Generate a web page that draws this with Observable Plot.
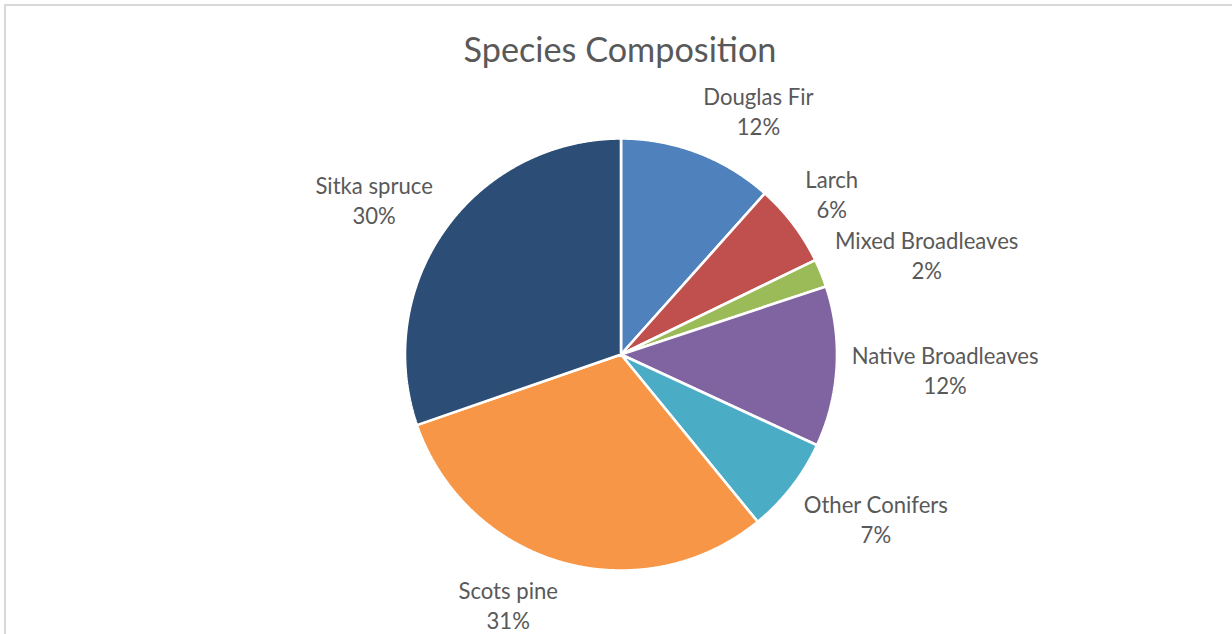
<!DOCTYPE html>
<html>
<head>
<meta charset="utf-8">
<script src="https://cdn.jsdelivr.net/npm/d3@7"></script>
<script src="https://cdn.jsdelivr.net/npm/@observablehq/plot@0.6"></script>
<style>
  html, body { margin: 0; padding: 0; background: #fff; width: 1232px; height: 634px; overflow: hidden; }
  #frame { position: absolute; left: 4px; top: 4px; width: 1240px; height: 640px;
           border-top: 2px solid #d9d9d9; border-left: 2px solid #d9d9d9; box-sizing: border-box; }
  #title { position: absolute; left: 0; width: 1240px; text-align: center; color: #595959;
           font-family: Lato, "Open Sans", sans-serif; line-height: 1.2; white-space: nowrap; }
  #chart { position: absolute; left: 0; top: 84px; }
</style>
</head>
<body>
<div id="frame"></div>
<div id="title">Species Composition</div>
<div id="chart"></div>
<script>
// ---- data ----
const species = ["Douglas Fir", "Larch", "Mixed Broadleaves", "Native Broadleaves", "Other Conifers", "Scots pine", "Sitka spruce"];
const shares = [11.6, 6.2, 2.1, 12.0, 7.2, 30.6, 30.3];
const colors = ["#4F81BD", "#C0504D", "#9BBB59", "#8064A2", "#4BACC6", "#F79646", "#2C4D75"];
const titleText = "Species Composition";

// ---- layout / style ----
const W = 1232, H = 550;
const cx = 620.5, cy = 270, r = 216;
const font = "Lato";
const ctx = document.createElement("canvas").getContext("2d");
function measure(t, size) { ctx.font = `${size}px ${font}`; return ctx.measureText(t).width; }
const labelSize = 100 * 187 / measure("Native Broadleaves", 100);
const titleSize = 100 * 313 / measure(titleText, 100);
const lineH = 30;

const title = document.getElementById("title");
title.style.fontSize = titleSize + "px";
title.style.top = (62 - 0.987 * titleSize) + "px";

// ---- slices ----
const arcs = d3.pie().sort(null).value(d => d)(shares);
const slicePts = [];
arcs.forEach((a, i) => {
  slicePts.push({name: species[i], x: 0, y: 0});
  const n = Math.max(2, Math.ceil((a.endAngle - a.startAngle) / 0.005));
  for (let k = 0; k <= n; k++) {
    const t = a.startAngle + (a.endAngle - a.startAngle) * k / n;
    slicePts.push({name: species[i], x: Math.sin(t), y: Math.cos(t)});
  }
});

// ---- labels (outside end: box edge point on a ring, then de-overlap) ----
const ring = r + 15;
const boxH = 56, gap = 5;
const clamp = v => Math.max(-1, Math.min(1, v));
const boxes = arcs.map((a, i) => {
  const m = (a.startAngle + a.endAngle) / 2;
  const pct = Math.round(shares[i]) + "%";
  const w = Math.max(measure(species[i], labelSize), measure(pct, labelSize));
  const ax = cx + ring * Math.sin(m), ay = cy - ring * Math.cos(m);
  return {i, m, pct, w,
          px: ax + clamp(4 * Math.sin(m)) * w / 2,
          py: ay - clamp(1.3 * Math.cos(m)) * boxH / 2};
});
const right = boxes.filter(b => Math.sin(b.m) > 0);
for (let k = 1; k < right.length; k++) {
  const prev = right[k - 1], cur = right[k];
  const overlapX = Math.abs(cur.px - prev.px) < (cur.w + prev.w) / 2;
  if (overlapX && cur.py - boxH / 2 < prev.py + boxH / 2 + gap) cur.py = prev.py + boxH + gap;
}
const labels = boxes.map(b => ({
  name: species[b.i], text: species[b.i] + "\n" + b.pct,
  x: (b.px - cx) / r, y: (cy - b.py) / r
}));

const chart = Plot.plot({
  width: W, height: H, margin: 0,
  x: {domain: [-1, 1], range: [cx - r, cx + r], axis: null},
  y: {domain: [-1, 1], range: [cy + r, cy - r], axis: null},
  color: {domain: species, range: colors},
  style: {fontFamily: font, background: "transparent", overflow: "visible"},
  marks: [
    Plot.line(slicePts, {x: "x", y: "y", z: "name", fill: "name", stroke: "white", strokeWidth: 2.6, strokeLinejoin: "miter", curve: "linear-closed"}),
    Plot.text(labels, {x: "x", y: "y", text: "text", fill: "#595959", fontSize: labelSize, lineHeight: lineH / labelSize, textAnchor: "middle", lineAnchor: "middle"})
  ]
});
document.getElementById("chart").append(chart);
</script>
</body>
</html>
